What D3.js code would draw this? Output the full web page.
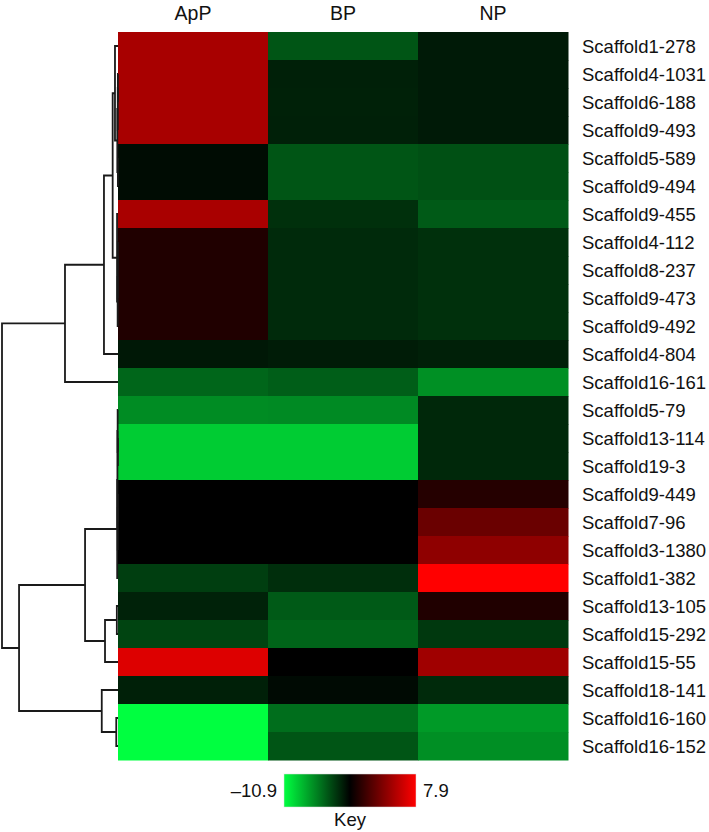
<!DOCTYPE html>
<html>
<head>
<meta charset="utf-8">
<script src="https://cdn.jsdelivr.net/npm/d3@7"></script>
<style>
  body { margin: 0; background: #fff; }
  text { font-family: "Liberation Sans", Arial, sans-serif; fill: #111; }
</style>
</head>
<body>
<div id="chart"></div>
<script>
// heatmap data
const columns = ["ApP", "BP", "NP"];
const rowNames = ["Scaffold1-278", "Scaffold4-1031", "Scaffold6-188", "Scaffold9-493", "Scaffold5-589",
  "Scaffold9-494", "Scaffold9-455", "Scaffold4-112", "Scaffold8-237", "Scaffold9-473", "Scaffold9-492",
  "Scaffold4-804", "Scaffold16-161", "Scaffold5-79", "Scaffold13-114", "Scaffold19-3", "Scaffold9-449",
  "Scaffold7-96", "Scaffold3-1380", "Scaffold1-382", "Scaffold13-105", "Scaffold15-292", "Scaffold15-55",
  "Scaffold18-141", "Scaffold16-160", "Scaffold16-152"];
const apP = [4.69, 4.7, 4.68, 4.69, -1.94, -1.94, 4.72, -0.32, -0.32, -0.32, -0.32, -2.38, -5.26,
  -6.66, -9.02, -9.02, -1.5, -1.5, -1.5, -3.79, -2.75, -4.01, 6.65, -2.68, -10.9, -10.9];
const bP = [-4.63, -2.68, -2.7, -2.68, -4.63, -4.63, -3.27, -3.05, -3.05, -3.05, -3.05, -2.53, -4.96,
  -6.59, -9.02, -9.02, -1.5, -1.5, -1.5, -3.2, -4.82, -5.19, -1.5, -1.87, -5.55, -4.63];
const nP = [-2.46, -2.46, -2.46, -2.46, -4.45, -4.45, -4.82, -3.27, -3.27, -3.27, -3.27, -2.68, -6.81,
  -2.97, -2.97, -2.97, -0.14, 2.41, 3.77, 7.9, -0.32, -3.56, 4.4, -3.05, -7.18, -6.77];
const keyRange = [-10.9, 7.9];

// row dendrogram, hclust style: negative = leaf (1-based), positive = earlier merge
const merges = [
  [-2, -3, 0.01], [1, -4, 0.02], [-5, -6, 0.01], [2, 3, 0.06], [-1, 4, 0.26],
  [-8, -9, 0.01], [6, -10, 0.02], [7, -11, 0.03], [-7, 8, 0.08], [5, 9, 0.46],
  [10, -12, 1.21], [11, -13, 4.57],
  [-15, -16, 0.01], [-14, 13, 0.03], [-17, -18, 0.01], [15, -19, 0.02], [14, 16, 0.05],
  [17, -20, 0.07], [-21, -22, 0.1], [19, -23, 1.12], [18, 20, 2.84], [-25, -26, 0.15],
  [-24, 22, 1.4], [21, 23, 8.53], [12, 24, 10]
];

const width = 709, height = 832;
const mLeft = 118, mRight = 568, mTop = 32, mBottom = 760;

const svg = d3.select("#chart").append("svg")
  .attr("width", width)
  .attr("height", height);

const x = d3.scaleBand().domain(columns).range([mLeft, mRight]);
const y = d3.scaleBand().domain(rowNames).range([mTop, mBottom]);

const mid = (keyRange[0] + keyRange[1]) / 2;
const color = d3.scaleLinear()
  .domain([keyRange[0], mid, keyRange[1]])
  .range(["#00ff40", "#000000", "#ff0000"])
  .clamp(true);

const cells = [];
rowNames.forEach((r, i) => {
  [apP[i], bP[i], nP[i]].forEach((v, j) => cells.push({ row: r, col: columns[j], value: v }));
});

svg.append("g").selectAll("rect")
  .data(cells)
  .enter()
  .append("rect")
  .attr("x", d => x(d.col))
  .attr("y", d => y(d.row))
  .attr("width", x.bandwidth() + 0.5)
  .attr("height", y.bandwidth() + 0.5)
  .attr("fill", d => color(d.value));

// column labels
svg.append("g").selectAll("text")
  .data(columns)
  .enter()
  .append("text")
  .attr("x", d => x(d) + x.bandwidth() / 2)
  .attr("y", 19.5)
  .attr("text-anchor", "middle")
  .style("font-size", "19.5px")
  .text(d => d);

// row labels
svg.append("g").selectAll("text")
  .data(rowNames)
  .enter()
  .append("text")
  .attr("x", 582)
  .attr("y", d => y(d) + y.bandwidth() / 2 + 6.5)
  .style("font-size", "18.5px")
  .text(d => d);

// dendrogram
const hx = d3.scaleLinear().domain([0, 10]).range([mLeft, 2]);
const nodes = [];
function node(id) {
  if (id < 0) return { h: 0, y: y(rowNames[-id - 1]) + y.bandwidth() / 2 };
  return nodes[id - 1];
}
const dend = svg.append("g")
  .attr("fill", "none")
  .attr("stroke", "#1a1a1a")
  .attr("stroke-width", 1.8);
merges.forEach(([a, b, h]) => {
  const na = node(a), nb = node(b);
  const n = { h: h, y: (na.y + nb.y) / 2 };
  nodes.push(n);
  const path = d3.path();
  path.moveTo(hx(na.h), na.y);
  path.lineTo(hx(h), na.y);
  path.lineTo(hx(h), nb.y);
  path.lineTo(hx(nb.h), nb.y);
  dend.append("path").attr("d", path.toString());
});

// colour key
const kx = d3.scaleLinear().domain(keyRange).range([284, 416]);
const grad = svg.append("defs").append("linearGradient")
  .attr("id", "keygrad")
  .attr("x1", "0%").attr("x2", "100%");
d3.range(0, 1.0001, 0.05).forEach(t => {
  const v = keyRange[0] + t * (keyRange[1] - keyRange[0]);
  grad.append("stop").attr("offset", (t * 100) + "%").attr("stop-color", color(v));
});
svg.append("rect")
  .attr("x", kx(keyRange[0]))
  .attr("y", 774)
  .attr("width", kx(keyRange[1]) - kx(keyRange[0]))
  .attr("height", 33)
  .attr("fill", "url(#keygrad)")
  .attr("stroke", "#ddd")
  .attr("stroke-width", 0.5);
svg.append("text")
  .attr("x", kx(keyRange[0]) - 7)
  .attr("y", 797)
  .attr("text-anchor", "end")
  .style("font-size", "18.5px")
  .text("\u2013" + Math.abs(keyRange[0]));
svg.append("text")
  .attr("x", kx(keyRange[1]) + 7)
  .attr("y", 797)
  .style("font-size", "18.5px")
  .text(keyRange[1]);
svg.append("text")
  .attr("x", (kx(keyRange[0]) + kx(keyRange[1])) / 2)
  .attr("y", 826)
  .attr("text-anchor", "middle")
  .style("font-size", "18.5px")
  .text("Key");
</script>
</body>
</html>
